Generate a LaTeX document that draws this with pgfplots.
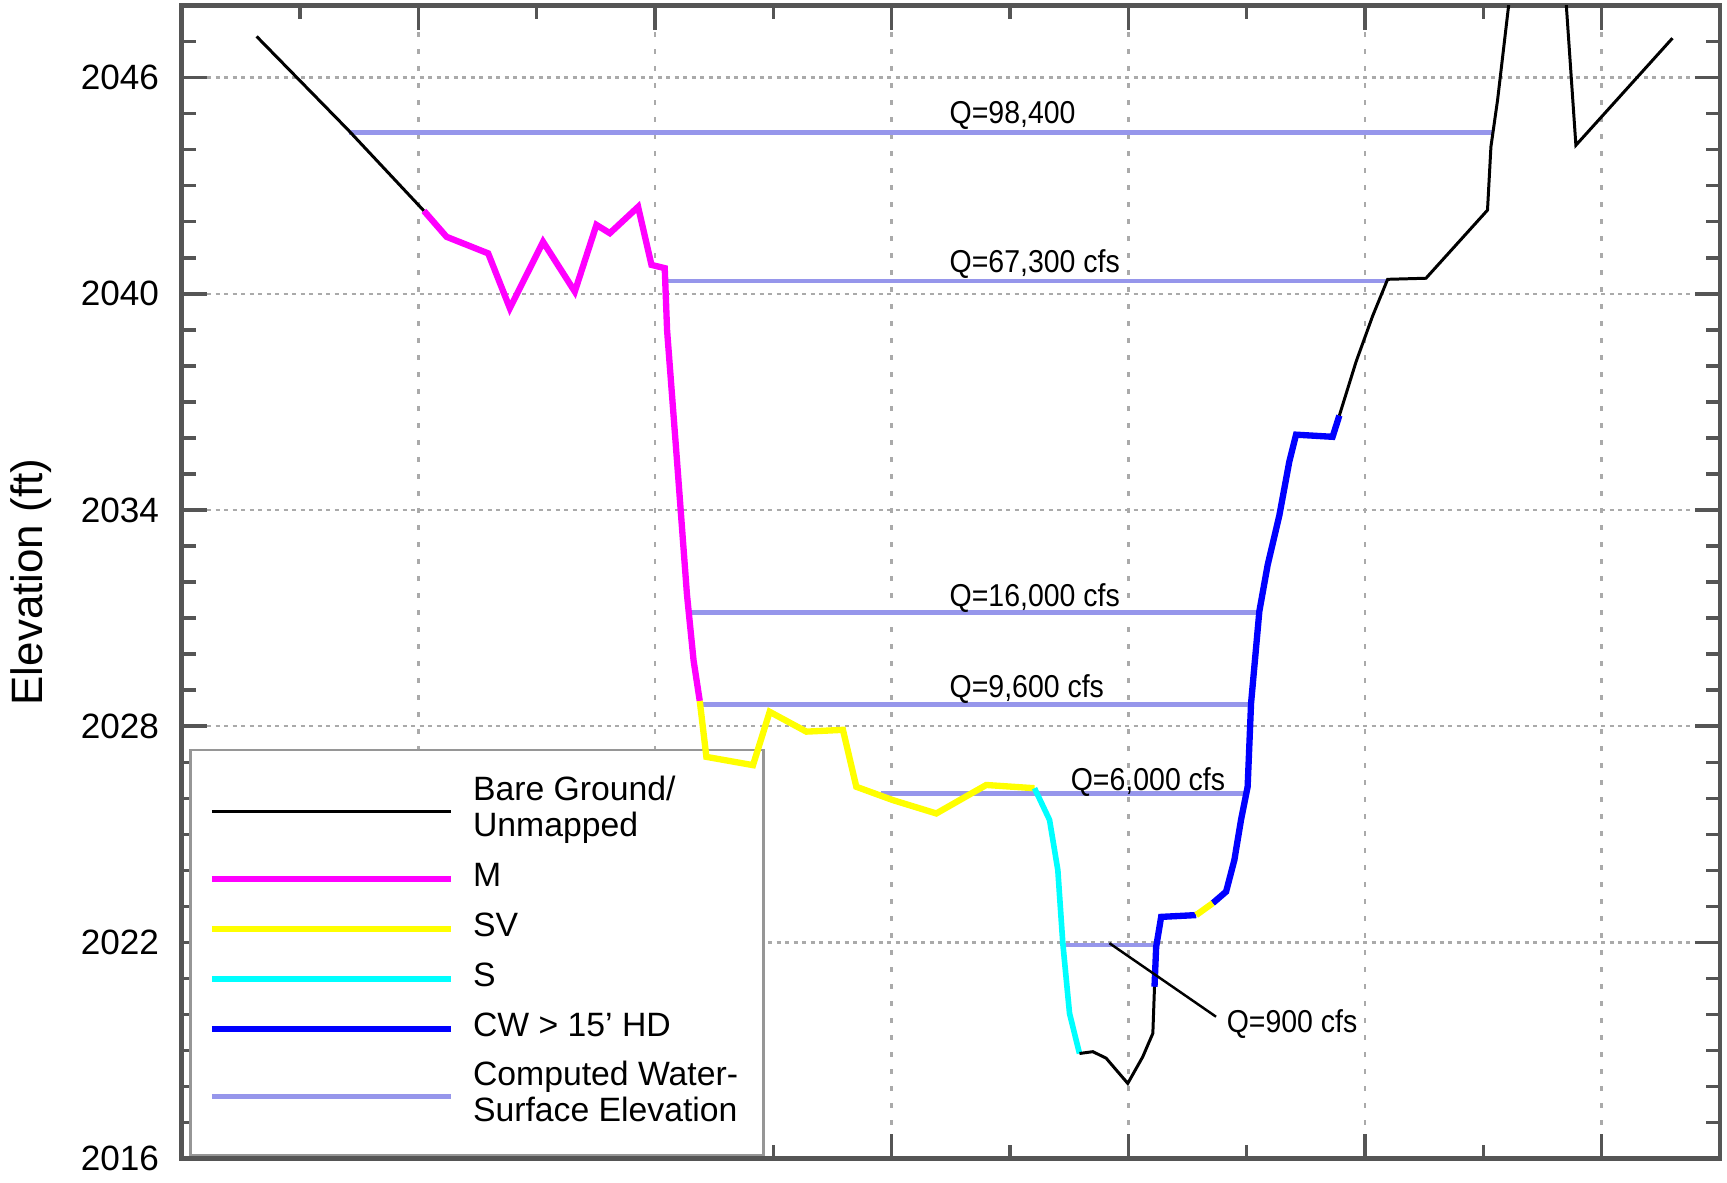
\documentclass[border=0pt]{standalone}
\usepackage{pgfplots}
\pgfplotsset{compat=1.18}
\usepackage{fontspec}
\setmainfont{Liberation Sans}
\newfontfamily\narrow[FakeStretch=0.9]{Liberation Sans}

\definecolor{wse}{RGB}{150,150,235}
\definecolor{axgray}{RGB}{85,85,85}
\definecolor{gridgray}{RGB}{170,170,170}
\definecolor{boxgray}{RGB}{150,150,150}
\definecolor{cM}{RGB}{255,0,255}
\definecolor{cSV}{RGB}{255,255,0}
\definecolor{cS}{RGB}{0,255,255}
\definecolor{cCW}{RGB}{0,0,255}

\begin{document}
\begin{tikzpicture}
\begin{axis}[
    scale only axis,
    width=153.83mm, height=115.33mm,
    xmin=0, xmax=13,
    ymin=2016, ymax=2048,
    xtick={0,2,...,12},
    minor xtick={0,1,...,13},
    xticklabels={},
    ytick={2016,2022,...,2046},
    minor ytick={2016,2017,...,2047},
    /pgf/number format/assume math mode=true,
    /pgf/number format/1000 sep={},
    tick label style={font=\fontsize{10}{12}\selectfont},
    yticklabel style={inner sep=0pt, xshift=-2.2mm},
    ylabel={Elevation (ft)},
    every axis y label/.style={at={(rel axis cs:0,0.5)}, anchor=center,
        xshift=-15.07mm, rotate=90, font=\fontsize{12.5}{15}\selectfont},
    axis line style={axgray, line width=0.45mm},
    tick style={axgray, line width=0.35mm},
    major tick length=2.5mm,
    minor tick length=1.4mm,
    xmajorgrids, ymajorgrids,
    x grid style={gridgray, line width=0.25mm, dash pattern=on 0.5mm off 1.2mm},
    y grid style={gridgray, line width=0.25mm, dash pattern=on 0.4mm off 0.45mm},
    legend cell align=left,
    legend image code/.code={\draw[#1] (0mm,0mm) -- (23.9mm,0mm);},
    % the legend frame is drawn below the profile (see box further down)
    legend style={at={(rel axis cs:0,0)}, anchor=south west,
        xshift=0.88mm, yshift=0.35mm,
        draw=none, fill=none,
        inner xsep=1.75mm, inner ysep=2.2mm,
        column sep=1.9mm, row sep=4pt,
        nodes={inner sep=0pt, text depth=},
        font=\fontsize{9.6}{10.2}\selectfont},
]
% legend frame, under the data lines
\draw[boxgray, line width=0.25mm, fill=white]
    ([xshift=0.88mm,yshift=0.35mm]rel axis cs:0,0) rectangle
    ([xshift=58.18mm,yshift=40.85mm]rel axis cs:0,0);

% computed water-surface elevations
\addplot[wse, line width=1.3pt, forget plot] coordinates {(1.414,2044.47) (11.09,2044.47)};
\addplot[wse, line width=1.3pt, forget plot] coordinates {(4.086,2040.35) (10.185,2040.35)};
\addplot[wse, line width=1.3pt, forget plot] coordinates {(4.29,2031.15) (9.106,2031.15)};
\addplot[wse, line width=1.3pt, forget plot] coordinates {(4.378,2028.6) (9.036,2028.6)};
\addplot[wse, line width=1.3pt, forget plot] coordinates {(5.907,2026.14) (8.99,2026.14)};
\addplot[wse, line width=1.3pt, forget plot] coordinates {(7.447,2021.93) (8.237,2021.93)};

% ground profile by class
\addplot[black, line width=0.85pt] coordinates {
    (0.633,2047.14) (1.405,2044.55) (2.047,2042.30)};
\addlegendentry{\begin{tabular}{@{}l@{}}Bare Ground/\\Unmapped\end{tabular}}
\addplot[cM, line width=1.8pt] coordinates {
    (2.047,2042.30) (2.238,2041.58) (2.590,2041.12) (2.773,2039.60)
    (3.054,2041.44) (3.322,2040.06) (3.505,2041.91) (3.618,2041.68)
    (3.857,2042.41) (3.970,2040.80) (4.082,2040.71) (4.102,2038.98)
    (4.187,2035.31) (4.270,2031.65) (4.326,2029.82) (4.378,2028.70)};
\addlegendentry{M\strut}
\addplot[cSV, line width=1.8pt] coordinates {
    (4.378,2028.70) (4.434,2027.15) (4.828,2026.92) (4.969,2028.40)
    (5.279,2027.85) (5.588,2027.90) (5.701,2026.32) (6.010,2025.95)
    (6.377,2025.58) (6.799,2026.37) (7.207,2026.28)};
\addlegendentry{SV\strut}
\addplot[cS, line width=1.6pt] coordinates {
    (7.207,2026.28) (7.334,2025.40) (7.404,2024.01) (7.446,2021.98)
    (7.503,2020.03) (7.587,2018.92)};
\addlegendentry{S\strut}
\addplot[cCW, line width=1.8pt] coordinates {
    (8.221,2020.77) (8.235,2021.88) (8.277,2022.71) (8.573,2022.76)};
\addlegendentry{CW > 15' HD\strut}
\addplot[cCW, line width=1.8pt, forget plot] coordinates {
    (8.713,2023.09) (8.826,2023.41) (8.896,2024.29) (8.952,2025.40)
    (9.008,2026.32) (9.037,2028.64) (9.107,2031.19) (9.177,2032.47)
    (9.276,2033.85) (9.360,2035.34) (9.417,2036.09) (9.726,2036.03)
    (9.783,2036.62)};
\addplot[cSV, line width=1.8pt, forget plot] coordinates {
    (8.573,2022.76) (8.713,2023.09)};
\addplot[black, line width=0.85pt, forget plot] coordinates {
    (7.587,2018.92) (7.700,2018.97) (7.812,2018.79) (7.995,2018.09)
    (8.122,2018.83) (8.207,2019.48) (8.221,2020.77)};
\addplot[black, line width=0.85pt, forget plot] coordinates {
    (9.783,2036.62) (9.924,2038.11) (10.064,2039.38) (10.191,2040.40)
    (10.515,2040.43) (11.035,2042.32) (11.064,2044.08) (11.120,2045.37)
    (11.219,2048.15) (11.25,2049.2) (11.67,2049.2) (11.698,2048.15)
    (11.782,2044.12) (12.598,2047.09)};
% leader for the low-flow label
\addplot[black, line width=0.7pt, forget plot] coordinates {
    (7.84,2021.98) (8.741,2019.94)};

\addlegendimage{wse, line width=1.3pt}
\addlegendentry{\begin{tabular}{@{}l@{}}Computed Water-\\Surface Elevation\end{tabular}}

\begin{scope}[every node/.style={anchor=base west, inner sep=0pt,
    font=\narrow\fontsize{9}{10.8}\selectfont}]
\node at (axis cs:6.484,2044.73) {Q=98,400};
\node at (axis cs:6.484,2040.58) {Q=67,300 cfs};
\node at (axis cs:6.484,2031.33) {Q=16,000 cfs};
\node at (axis cs:6.484,2028.80) {Q=9,600 cfs};
\node at (axis cs:7.508,2026.22) {Q=6,000 cfs};
\node at (axis cs:8.826,2019.50) {Q=900 cfs};
\end{scope}
\end{axis}
\pgfresetboundingbox
\path[use as bounding box] (-18.17mm,-2.33mm) rectangle (154.53mm,115.87mm);
\end{tikzpicture}
\end{document}
